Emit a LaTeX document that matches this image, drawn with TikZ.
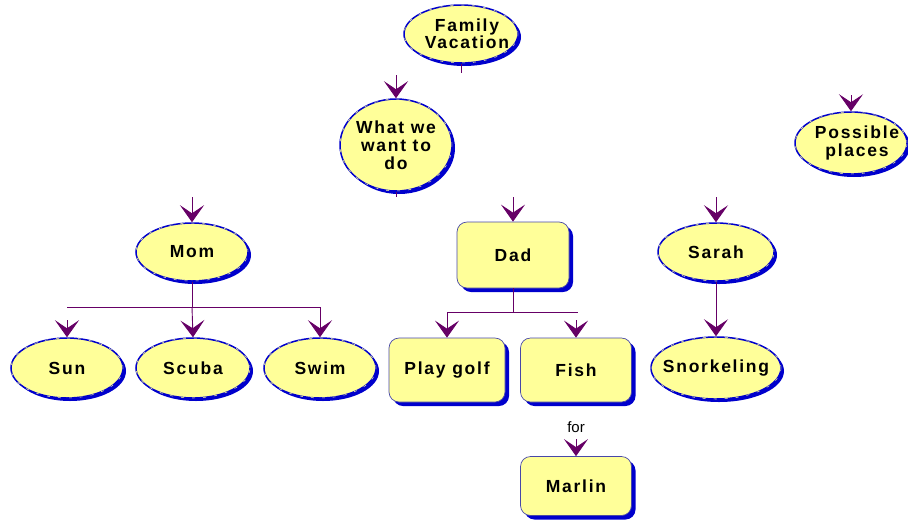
\documentclass[tikz,border=0pt]{standalone}
\usepackage{fontspec}
\setmainfont{Liberation Sans}
\newfontfamily\boxfont{Liberation Sans}[LetterSpace=10]
\usetikzlibrary{arrows.meta}
\usetikzlibrary{shapes.geometric, shadows}
\definecolor{boxfill}{HTML}{FFFF99}
\definecolor{rim}{HTML}{0000CC}
\definecolor{rectrim}{HTML}{4848A8}
\definecolor{linkcol}{HTML}{660066}

\begin{document}
\begin{tikzpicture}[
    x=1pt, y=-1pt,
    >={Stealth[length=17pt, width=24pt, inset=8pt]},
    txt/.style={font=\boxfont\bfseries\fontsize{17.5}{18}\selectfont, align=center, text=black},
    oval/.style={ellipse, fill=boxfill, draw=rim, line width=1.5pt, inner sep=0pt,
                 drop shadow={shadow xshift=3pt, shadow yshift=-3pt, fill=rim, opacity=1},
                 postaction={draw=boxfill, line width=0.5pt, dash pattern=on 3pt off 8pt}},
    card/.style={rectangle, rounded corners=10pt, fill=boxfill, draw=rectrim, line width=0.7pt,
                 drop shadow={shadow xshift=4pt, shadow yshift=-4pt, fill=rim, opacity=1},
                 txt},
    link/.style={draw=linkcol, line width=0.9pt},
    arr/.style={link, ->},
]
\useasboundingbox (0,0) rectangle (908,523);
\clip (0,0) rectangle (908,523);

% ── top of the tree ──
\node[oval, minimum width=114pt, minimum height=58pt,
      label={[txt, font=\boxfont\bfseries\fontsize{17.5}{16}\selectfont, xshift=6pt]center:{Family\\Vacation}}] (fam) at (461,34) {};
\node[oval, minimum width=112pt, minimum height=92pt,
      label={[txt]center:{What we\\want to\\do}}] (whatwe) at (396,145) {};
\node[oval, minimum width=112pt, minimum height=62pt,
      label={[txt, xshift=6pt]center:{Possible\\places}}] (places) at (851,143) {};

% ── people ──
\node[oval, minimum width=112pt, minimum height=58pt,
      label={[txt]center:Mom}] (mom) at (192,252) {};
\node[card, minimum width=112pt, minimum height=66pt] (dad) at (513,255) {Dad};
\node[oval, minimum width=116pt, minimum height=58pt,
      label={[txt]center:Sarah}] (sarah) at (716,252) {};

% ── activities ──
\node[oval, minimum width=112pt, minimum height=60pt,
      label={[txt]center:Sun}] (sun) at (67,368) {};
\node[oval, minimum width=114pt, minimum height=60pt,
      label={[txt]center:Scuba}] (scuba) at (193,368) {};
\node[oval, minimum width=112pt, minimum height=60pt,
      label={[txt]center:Swim}] (swim) at (320,368) {};
\node[card, minimum width=116pt, minimum height=64pt] (golf) at (447,370) {Play golf};
\node[card, minimum width=111pt, minimum height=64pt] (fish) at (576,370) {Fish};
\node[card, minimum width=111pt, minimum height=59pt] (marlin) at (576,486) {Marlin};
\node[oval, minimum width=130pt, minimum height=62pt,
      label={[txt]center:Snorkeling}] (snork) at (716,368) {};

\node[font=\fontsize{15}{15}\selectfont] (forlbl) at (576,427) {for};

% ── loose ends and joins ──
\coordinate (famend) at (461,73);
\coordinate (wwin) at (396,75);
\coordinate (wwend) at (396,197);
\coordinate (momin) at (192,197);
\coordinate (dadin) at (513,197);
\coordinate (sarin) at (716,197);
\coordinate (plin) at (851,95);
\coordinate (momjoin) at (192,307);
\coordinate (momL) at (67,307);
\coordinate (momR) at (320,307);
\coordinate (sunin) at (67,320);
\coordinate (dadjoin) at (513,312);
\coordinate (dadL) at (447,312);
\coordinate (dadR) at (578,312);
\coordinate (fishin) at (576,320);
\coordinate (marlinin) at (576,439);

\draw[link] (fam.south) -- (famend);
\draw[arr] (wwin) -- (whatwe.north);
\draw[link] (whatwe.south) -- (wwend);
\draw[arr] (momin) -- (mom.north);
\draw[arr] (dadin) -- (dad.north);
\draw[arr] (sarin) -- (sarah.north);
\draw[arr] (plin) -- (places.north);

\draw[link] (mom.south) -- (momjoin);
\draw[link] (momL) -- (momR);
\draw[arr] (momjoin) -- (scuba.north);
\draw[arr] (momR) -- (swim.north);
\draw[arr] (sunin) -- (sun.north);

\draw[link] (dad.south) -- (dadjoin);
\draw[link] (dadL) -- (dadR);
\draw[arr] (dadL) -- (golf.north);
\draw[arr] (fishin) -- (fish.north);
\draw[arr] (marlinin) -- (marlin.north);

\draw[arr] (sarah.south) -- (snork.north);

\end{tikzpicture}
\end{document}
